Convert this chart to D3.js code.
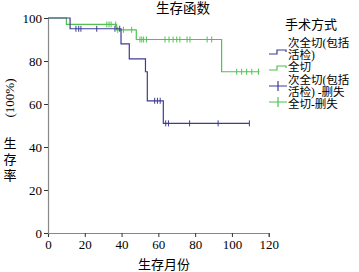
<!DOCTYPE html>
<html><head><meta charset="utf-8">
<script src="https://cdn.jsdelivr.net/npm/d3@7"></script>
<style>body{margin:0;background:#fff}svg{display:block}text{font-family:"Liberation Serif","Noto Sans CJK SC",serif;}</style>
</head><body>
<script>
const title = "生存函数";
const xTitle = "生存月份";
const yTitleLatin = "(100%)";
const yTitleCJK = ["生","存","率"];
const legendTitle = "手术方式";
const xTicks = [0,20,40,60,80,100,120];
const yTicks = [0,20,40,60,80,100];
// Kaplan-Meier step points [time, survival%]
const subtotalSteps = [[0,100],[12,95],[39.7,88],[44.2,81],[53,75],[54,61.5],[62.7,51],[109.5,51]];
const subtotalCensor = [15.2,16.7,17.9,26.5,36.4,39,58,59.5,61,64,65.5,77,92.5,109.5];
const totalSteps = [[0,100],[10,97],[37.3,94.5],[48,90],[94.4,75],[115,75]];
const totalCensor = [32,33.2,34.3,36.8,37.9,41,45.5,50,51,52,53.5,63.6,65.8,68,70,71.7,75.6,77.2,86.5,89,102.6,105.3,108,110.8,114.4];
const blue = "#3d3d94", green = "#4fc24f";

const W=359,H=272;
const svg=d3.select("body").append("svg").attr("width",W).attr("height",H);
const x=d3.scaleLinear().domain([0,120]).range([48,268.7]);
const y=d3.scaleLinear().domain([0,100]).range([233,18]);

svg.append("text").attr("x",183).attr("y",12.5).attr("text-anchor","middle").attr("font-size",13.5).text(title);

// axes
const xa=svg.append("g").attr("transform","translate(0,233)").call(d3.axisBottom(x).tickValues(xTicks).tickSize(4).tickPadding(3));
const ya=svg.append("g").attr("transform","translate(48,0)").call(d3.axisLeft(y).tickValues(yTicks).tickSize(4).tickPadding(2));
[xa,ya].forEach(a=>{a.select(".domain").attr("stroke","#888").attr("stroke-width",1.2);
 a.selectAll(".tick line").attr("stroke","#333");
 a.selectAll("text").attr("font-size",13).attr("fill","#000").attr("font-family","Liberation Serif");});

svg.append("text").attr("x",164).attr("y",269).attr("text-anchor","middle").attr("font-size",13).text(xTitle);
svg.append("text").attr("transform","translate(14,98) rotate(-90)").attr("text-anchor","middle").attr("font-size",13).text(yTitleLatin);
yTitleCJK.forEach((c,i)=>svg.append("text").attr("x",10).attr("y",148+i*16).attr("text-anchor","middle").attr("font-size",13).text(c));

const line=d3.line().x(d=>x(d[0])).y(d=>y(d[1])).curve(d3.curveStepAfter);
function survAt(steps,t){let v=steps[0][1];for(const s of steps){if(s[0]<=t)v=s[1];}return v;}
function draw(steps,cens,col){
  svg.append("path").datum(steps).attr("d",line).attr("fill","none").attr("stroke",col).attr("stroke-width",1.2);
  svg.append("g").selectAll("line").data(cens).join("line")
   .attr("x1",d=>x(d)).attr("x2",d=>x(d)).attr("y1",d=>y(survAt(steps,d))-3).attr("y2",d=>y(survAt(steps,d))+3)
   .attr("stroke",col).attr("stroke-width",1);
}
draw(totalSteps,totalCensor,green);
draw(subtotalSteps,subtotalCensor,blue);

// legend
const lg=svg.append("g");
lg.append("text").attr("x",285).attr("y",29).attr("font-size",13).text(legendTitle);
const items=[
 {type:"step",col:blue,lines:["次全切(包括","活检)"],sy:50},
 {type:"step",col:green,lines:["全切"],sy:66},
 {type:"cross",col:blue,lines:["次全切(包括","活检) -删失"],sy:86},
 {type:"cross",col:green,lines:["全切-删失"],sy:102}];
const textY=[[47,59],[71],[84,96],[108]];
items.forEach((it,i)=>{
  if(it.type==="step"){
    lg.append("path").attr("d",`M269,${it.sy+4}H277V${it.sy}H286V${it.sy+2}`).attr("fill","none").attr("stroke",it.col).attr("stroke-width",1.2);
  } else {
    lg.append("path").attr("d",`M269,${it.sy}H287M278,${it.sy-5}V${it.sy+5}`).attr("fill","none").attr("stroke",it.col).attr("stroke-width",1.2);
  }
  it.lines.forEach((l,j)=>lg.append("text").attr("x",288).attr("y",textY[i][j]).attr("font-size",11.5).text(l));
});
</script>
</body></html>
